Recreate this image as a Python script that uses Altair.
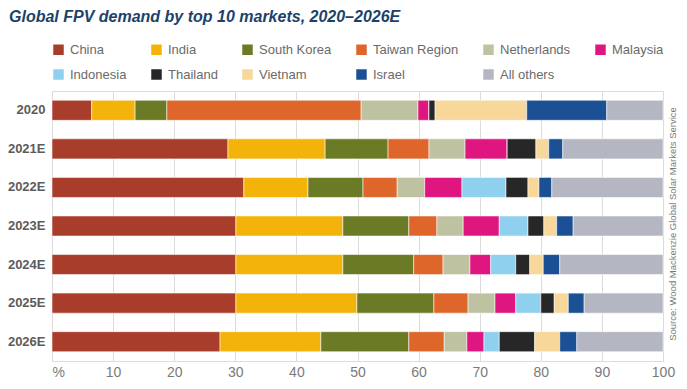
import altair as alt
import pandas as pd

years = ["2020", "2021E", "2022E", "2023E", "2024E", "2025E", "2026E"]
markets = ["China", "India", "South Korea", "Taiwan Region", "Netherlands", "Malaysia",
           "Indonesia", "Thailand", "Vietnam", "Israel", "All others"]
colors = ["#a83d2c", "#f4b30a", "#6a7a25", "#de662b", "#bec2a0", "#df1680",
          "#8fd0ef", "#272727", "#f7d79a", "#1b5194", "#b4b7c1"]

china = [6.5, 28.8, 31.4, 30.1, 30.1, 30.1, 27.5]
india = [7.1, 15.9, 10.5, 17.5, 17.5, 19.8, 16.5]
south_korea = [5.2, 10.3, 9.0, 10.8, 11.6, 12.6, 14.4]
taiwan = [31.8, 6.7, 5.6, 4.6, 4.8, 5.6, 5.8]
netherlands = [9.3, 5.9, 4.5, 4.3, 4.4, 4.4, 3.7]
malaysia = [1.8, 6.9, 6.1, 5.9, 3.4, 3.4, 2.8]
indonesia = [0.0, 0.0, 7.2, 4.7, 4.1, 4.1, 2.5]
thailand = [1.0, 4.7, 3.6, 2.6, 2.3, 2.2, 5.8]
vietnam = [15.0, 2.1, 1.8, 2.1, 2.2, 2.3, 4.1]
israel = [13.1, 2.3, 2.1, 2.7, 2.7, 2.6, 2.8]
others = [9.2, 16.4, 18.2, 14.7, 16.9, 12.9, 14.1]

series = [china, india, south_korea, taiwan, netherlands, malaysia,
          indonesia, thailand, vietnam, israel, others]

rows = []
for mi, (m, vals) in enumerate(zip(markets, series)):
    for y, v in zip(years, vals):
        rows.append({"year": y, "market": m, "share": v, "idx": mi})
df = pd.DataFrame(rows)

FONT = "Liberation Sans"
W, H = 611, 270

bars = alt.Chart(df).mark_bar(stroke="white", strokeWidth=1, strokeOpacity=0.55).encode(
    x=alt.X("share:Q", stack="zero",
            scale=alt.Scale(domain=[0, 100], nice=False),
            axis=alt.Axis(values=list(range(0, 101, 10)), title=None,
                          labelExpr="datum.value == 0 ? '%' : datum.label",
                          labelAlign={"condition": {"test": "datum.value == 0", "value": "left"},
                                      "value": "center"},
                          grid=True, gridColor="#dcdcdc", gridWidth=1,
                          domain=False, ticks=False, labelPadding=4,
                          labelFont=FONT, labelFontSize=14, labelColor="#7a7a7a")),
    y=alt.Y("year:N", sort=years,
            scale=alt.Scale(paddingInner=0.48, paddingOuter=0.24),
            axis=alt.Axis(title=None, domain=False, ticks=False, labelPadding=7,
                          labelFont=FONT, labelFontSize=13, labelFontWeight="bold",
                          labelColor="#5c5c5c")),
    color=alt.Color("market:N", sort=markets,
                    scale=alt.Scale(domain=markets, range=colors),
                    legend=alt.Legend(title=None, orient="none", legendX=0, legendY=-48,
                                      direction="horizontal",
                                      columns=6, gridAlign="each", columnPadding=23,
                                      rowPadding=11, symbolType="square", symbolSize=110,
                                      symbolStrokeWidth=0, labelFont=FONT,
                                      labelFontSize=13, labelColor="#6a6a6a",
                                      labelOffset=5, labelLimit=200)),
    order=alt.Order("idx:Q", sort="ascending"),
)

source = alt.Chart(pd.DataFrame({"t": ["Source: Wood Mackenzie Global Solar Markets Service"]})).mark_text(
    angle=270, font=FONT, fontSize=9.5, color="#7a7a7a", align="center", baseline="middle"
).encode(text="t:N", x=alt.value(W + 10), y=alt.value(133))

chart = alt.layer(bars, source).properties(
    width=W, height=H,
    title=alt.TitleParams("Global FPV demand by top 10 markets, 2020\u20132026E",
                          anchor="start", frame="group", dx=-43, offset=18,
                          font=FONT, fontSize=16, fontWeight="bold", fontStyle="italic",
                          color="#1d4269"),
    autosize=alt.AutoSizeParams(type="none"),
    padding={"left": 44, "top": 83, "right": 16, "bottom": 20},
).configure_view(stroke=None).configure(background="white")

chart.save("out.html", embed_options={"renderer": "svg", "actions": False})
